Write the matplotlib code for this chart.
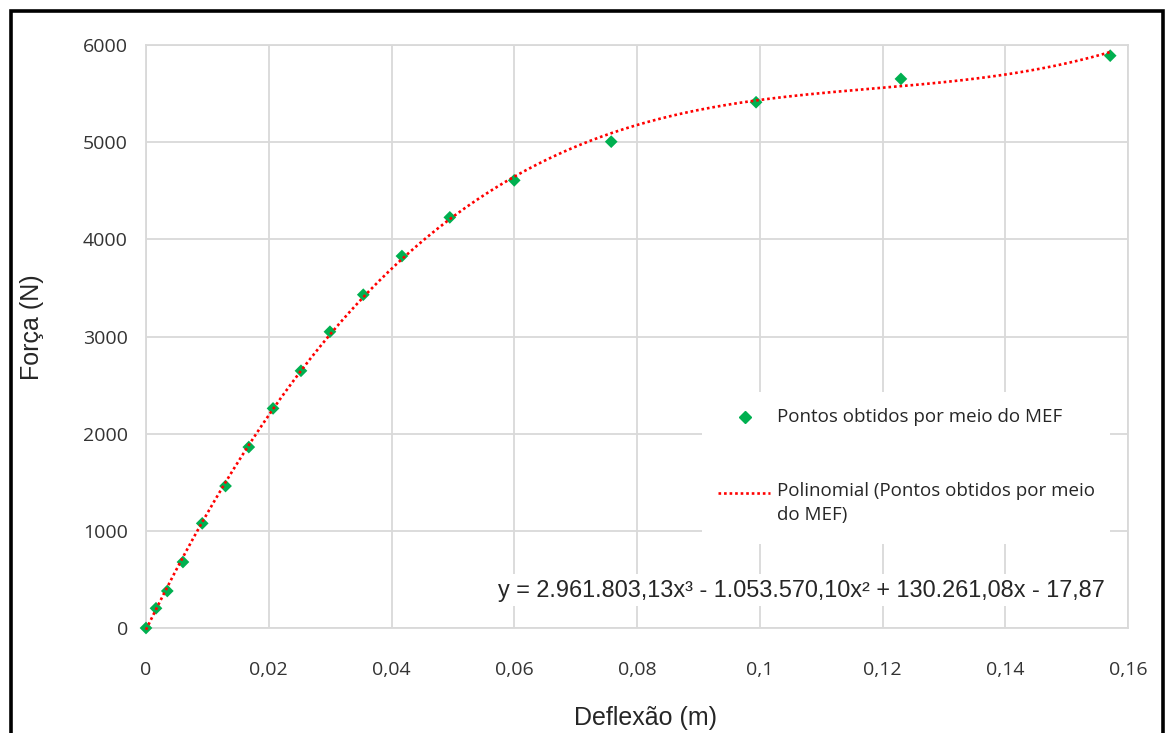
import numpy as np
import matplotlib
matplotlib.use("Agg")
import matplotlib.pyplot as plt
from matplotlib.lines import Line2D
from matplotlib.patches import Rectangle

# ---- data ----
deflexao = [0.0, 0.00163, 0.00347, 0.00602, 0.00916, 0.01296, 0.01675, 0.0207,
            0.02525, 0.02997, 0.0354, 0.0417, 0.0495, 0.0600, 0.0758, 0.0994,
            0.1230, 0.1571]
forca = [0, 203, 381, 679, 1077, 1461, 1862, 2260,
         2647, 3049, 3430, 3828, 4226, 4607, 5005, 5411,
         5651, 5890]
# trendline coefficients as printed on the chart (highest degree first)
poly_coef = [2961803.13, -1053570.10, 130261.08, -17.87]
x_ticks = [0, 0.02, 0.04, 0.06, 0.08, 0.1, 0.12, 0.14, 0.16]
x_tick_labels = ["0", "0,02", "0,04", "0,06", "0,08", "0,1", "0,12", "0,14", "0,16"]
y_ticks = [0, 1000, 2000, 3000, 4000, 5000, 6000]
y_tick_labels = ["0", "1000", "2000", "3000", "4000", "5000", "6000"]
label_pts = "Pontos obtidos por meio do MEF"
label_poly = "Polinomial (Pontos obtidos por meio\ndo MEF)"
equation = "y = 2.961.803,13x³ - 1.053.570,10x² + 130.261,08x - 17,87"
xlabel = "Deflexão (m)"
ylabel = "Força (N)"

W, H = 1167, 733
fig = plt.figure(figsize=(W / 100, H / 100), dpi=100)
fig.patch.set_facecolor("white")

def fx(px):
    return px / W

def fy(py):
    return 1 - py / H

L, R, T, B = 146, 1128, 45, 628
ax = fig.add_axes([fx(L), fy(B), fx(R) - fx(L), fy(T) - fy(B)])
ax.set_xlim(0, 0.16)
ax.set_ylim(0, 6000)

grid_c = "#d9d9d9"
for s in ax.spines.values():
    s.set_color(grid_c)
    s.set_linewidth(1.3)
ax.grid(True, color=grid_c, linewidth=1.3, zorder=0)
ax.set_axisbelow(True)

tick_font = "Open Sans"
ax.set_xticks(x_ticks)
ax.set_xticklabels(x_tick_labels, fontname=tick_font, fontsize=14, color="#333333")
ax.set_yticks(y_ticks)
ax.set_yticklabels(y_tick_labels, fontname=tick_font, fontsize=14, color="#333333")
ax.tick_params(axis="both", length=0)
ax.tick_params(axis="x", pad=24)
ax.tick_params(axis="y", pad=13)

green = "#00B050"
red = "#FF0000"
dot_style = (0, (1.0, 1.1))
ax.scatter(deflexao, forca, marker="D", s=42, color=green, edgecolors="none",
           zorder=3, clip_on=False)

xs = np.linspace(min(deflexao), max(deflexao), 400)
ax.plot(xs, np.polyval(poly_coef, xs), color=red, linewidth=1.9,
        linestyle=dot_style, zorder=4, clip_on=False)

ax.set_xlabel(xlabel, fontname="Liberation Sans", fontsize=18, color="#262626")
ax.set_ylabel(ylabel, fontname="Liberation Sans", fontsize=18, color="#262626")
ax.xaxis.set_label_coords((645 - L) / (R - L), (B - 706) / (B - T))
ax.yaxis.set_label_coords((44 - L) / (R - L), (B - 327) / (B - T))

# ---- legend (Excel-like: handle aligned with first label line) ----
fig.patches.append(Rectangle((fx(702), fy(544)), fx(1110) - fx(702), fy(392) - fy(544),
                             transform=fig.transFigure, facecolor="white",
                             edgecolor="none", zorder=5))
fig.lines.append(Line2D([fx(745)], [fy(417)], transform=fig.transFigure, marker="D",
                        markersize=6, color=green, linestyle="none", zorder=6))
fig.lines.append(Line2D([fx(718), fx(770)], [fy(493), fy(493)], transform=fig.transFigure,
                        color=red, linewidth=1.9, linestyle=dot_style, zorder=6))
fig.text(fx(777), fy(417), label_pts, ha="left", va="center", fontname=tick_font,
         fontsize=13.5, color="#262626", zorder=6)
fig.text(fx(777), fy(482), label_poly, ha="left", va="top", fontname=tick_font,
         fontsize=13.5, color="#262626", linespacing=1.45, zorder=6)

fig.text(fx(801), fy(590), equation, ha="center", va="center",
         fontname="Liberation Sans", fontsize=16.9, color="#262626", zorder=6,
         bbox=dict(facecolor="white", edgecolor="none", pad=3))

fig.patches.append(Rectangle((fx(11), fy(760)), fx(1163) - fx(11), fy(11) - fy(760),
                             transform=fig.transFigure, fill=False, edgecolor="black",
                             linewidth=2.6, zorder=10))

fig.savefig("out.png", dpi=100)
